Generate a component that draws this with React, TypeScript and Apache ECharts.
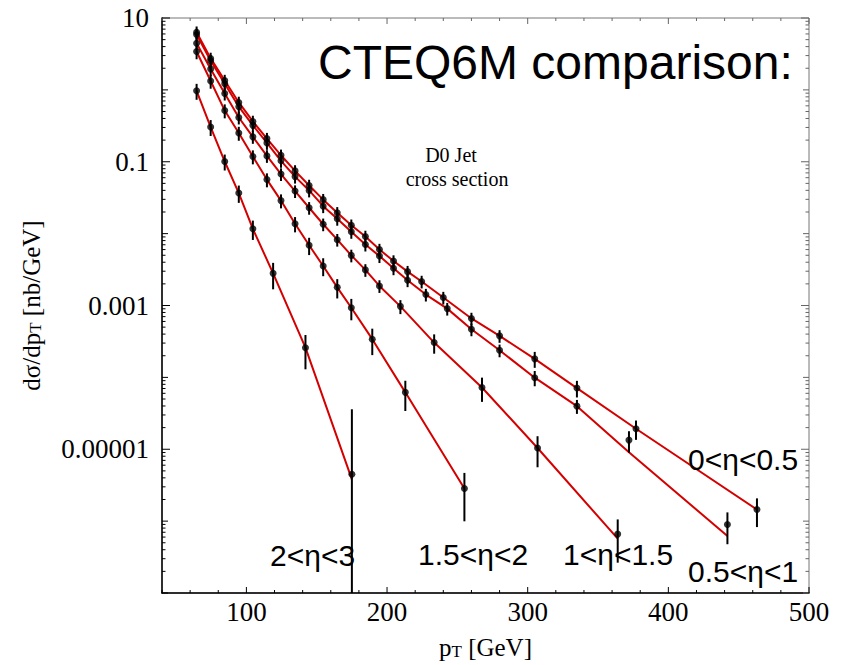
import React, { useEffect, useRef } from "react";
import * as echarts from "echarts";

// ---------- data (pT in GeV, cross section in nb/GeV) ----------
const pT_a = [64.6, 74.6, 84.6, 94.6, 104.6, 114.6, 124.6, 134.6, 144.6, 154.6, 164.6, 174.6, 184.6, 194.6, 204.6, 214.6, 224.6, 240, 260, 280, 305, 335, 377, 463];
const xs_a = [6.35, 2.74, 1.35, 0.669, 0.364, 0.21, 0.123, 0.0746, 0.0468, 0.0297, 0.0195, 0.0131, 0.00914, 0.00601, 0.00416, 0.00296, 0.00216, 0.00129, 6.6e-4, 3.78e-4, 1.81e-4, 7.1e-5, 1.93e-5, 1.45e-6];
const err_a = [0.2, 0.2, 0.2, 0.2, 0.2, 0.2, 0.2, 0.2, 0.2, 0.2, 0.2, 0.2, 0.2, 0.2, 0.2, 0.2, 0.2, 0.2, 0.2, 0.2, 0.25, 0.26, 0.3, 0.43];
const th_a = [6.35, 2.74, 1.35, 0.669, 0.364, 0.21, 0.123, 0.0746, 0.0468, 0.0297, 0.0195, 0.0131, 0.00914, 0.00601, 0.00416, 0.00296, 0.00216, 0.00129, 6.6e-4, 3.78e-4, 1.81e-4, 7.1e-5, 1.93e-5, 1.45e-6];

const pT_b = [64.6, 74.6, 84.6, 94.6, 104.6, 114.6, 124.6, 134.6, 144.6, 154.6, 164.6, 174.6, 184.6, 194.6, 204.6, 214.6, 227.6, 242.8, 260, 280, 305, 335, 372, 442];
const xs_b = [5.9, 2.54, 1.22, 0.584, 0.321, 0.183, 0.103, 0.0621, 0.0399, 0.0241, 0.0161, 0.0106, 0.00705, 0.00487, 0.0033, 0.00225, 0.00142, 9.05e-4, 4.67e-4, 2.38e-4, 9.9e-5, 3.98e-5, 1.34e-5, 9.0e-7];
const err_b = [0.2, 0.2, 0.2, 0.2, 0.2, 0.2, 0.2, 0.2, 0.2, 0.2, 0.2, 0.2, 0.2, 0.2, 0.2, 0.2, 0.2, 0.2, 0.2, 0.2, 0.24, 0.22, 0.33, 0.47];
const th_b = [5.9, 2.54, 1.22, 0.584, 0.321, 0.183, 0.103, 0.0621, 0.0399, 0.0241, 0.0161, 0.0106, 0.00705, 0.00487, 0.0033, 0.00225, 0.00142, 9.05e-4, 4.67e-4, 2.38e-4, 9.9e-5, 3.98e-5, 9.1e-6, 6.2e-7];

const pT_c = [64.6, 74.6, 84.6, 94.6, 104.6, 114.6, 124.6, 134.6, 144.6, 154.6, 164.6, 174.6, 184.6, 194.6, 209.5, 233.5, 267.5, 307, 364];
const xs_c = [4.45, 1.95, 0.889, 0.413, 0.222, 0.1206, 0.0675, 0.0391, 0.0229, 0.0135, 0.00824, 0.00498, 0.00313, 0.00187, 9.73e-4, 3.05e-4, 7.24e-5, 1.04e-5, 6.6e-7];
const err_c = [0.2, 0.2, 0.2, 0.2, 0.2, 0.2, 0.2, 0.2, 0.2, 0.2, 0.2, 0.2, 0.2, 0.2, 0.22, 0.3, 0.37, 0.46, 0.6];
const th_c = [4.45, 1.95, 0.889, 0.413, 0.222, 0.1206, 0.0675, 0.0391, 0.0229, 0.0135, 0.00824, 0.00498, 0.00313, 0.00187, 9.73e-4, 3.05e-4, 7.24e-5, 1.04e-5, 5.7e-7];

const pT_d = [64.6, 74.6, 84.6, 94.6, 104.6, 114.6, 124.6, 134.6, 144.6, 154.6, 164.6, 174.6, 189.5, 213, 255];
const xs_d = [3.42, 1.33, 0.515, 0.251, 0.118, 0.0565, 0.0288, 0.0137, 0.00689, 0.00355, 0.00179, 9.29e-4, 3.4e-4, 6.19e-5, 2.84e-6];
const err_d = [0.22, 0.22, 0.22, 0.22, 0.22, 0.22, 0.22, 0.24, 0.27, 0.28, 0.3, 0.33, 0.4, 0.45, 0.65];
const th_d = [3.42, 1.33, 0.515, 0.251, 0.118, 0.0565, 0.0288, 0.0137, 0.00689, 0.00355, 0.00179, 9.29e-4, 3.4e-4, 6.19e-5, 2.84e-6];

const pT_e = [64.6, 74.6, 84.6, 94.6, 104.6, 119, 142, 175];
const xs_e = [0.97, 0.304, 0.1007, 0.0367, 0.01167, 0.0028, 2.59e-4, 4.5e-6];
const err_e = [0.25, 0.25, 0.25, 0.27, 0.3, 0.4, 0.5, 7.0];
const th_e = [0.97, 0.304, 0.1007, 0.0367, 0.01167, 0.0028, 2.59e-4, 3.8e-6];

const binLabels = ["0<η<0.5", "0.5<η<1", "1<η<1.5", "1.5<η<2", "2<η<3"];

// axis ticks
const xMin = 40;
const xMax = 500;
const xTickStep = 20;
const xLabelValues = [100, 200, 300, 400, 500];
const yMinExp = -7;
const yMaxExp = 1;
const yLabelExps = [1, -1, -3, -5];
const yLabelTexts = ["10", "0.1", "0.001", "0.00001"];

const SERIF = "'Liberation Serif', 'Times New Roman', serif";
const SANS = "'Liberation Sans', Arial, sans-serif";
const RED = "#d40000";

const bins = [
  { pT: pT_a, xs: xs_a, err: err_a, th: th_a },
  { pT: pT_b, xs: xs_b, err: err_b, th: th_b },
  { pT: pT_c, xs: xs_c, err: err_c, th: th_c },
  { pT: pT_d, xs: xs_d, err: err_d, th: th_d },
  { pT: pT_e, xs: xs_e, err: err_e, th: th_e },
];

function buildOption() {
  const series: any[] = [];

  // frame ticks (inside, all four sides)
  const tickData: number[][] = [];
  for (let e = yMinExp; e <= yMaxExp; e++) {
    tickData.push([xMin, e, 1, yLabelExps.includes(e) ? 8 : 6]);
    if (e < yMaxExp) {
      for (let k = 2; k <= 9; k++) tickData.push([xMin, e + Math.log10(k), 1, 3.5]);
    }
  }
  for (let v = xMin; v <= xMax; v += xTickStep) {
    tickData.push([v, yMinExp, 0, v % 100 === 0 ? 6 : 3]);
  }
  series.push({
    type: "custom",
    name: "ticks",
    silent: true,
    z: 1,
    data: tickData,
    encode: { x: 0, y: 1 },
    renderItem: (params: any, api: any) => {
      const x = api.value(0);
      const y = api.value(1);
      const isY = api.value(2) === 1;
      const len = api.value(3);
      if (isY) {
        const l = api.coord([xMin, y]);
        const r = api.coord([xMax, y]);
        return {
          type: "group",
          children: [
            { type: "line", shape: { x1: l[0], y1: l[1], x2: l[0] + len, y2: l[1] }, style: { stroke: "#000", lineWidth: 1 } },
            { type: "line", shape: { x1: r[0] - len, y1: r[1], x2: r[0], y2: r[1] }, style: { stroke: "#666", lineWidth: 1 } },
          ],
        };
      }
      const b = api.coord([x, yMinExp]);
      const t = api.coord([x, yMaxExp]);
      return {
        type: "group",
        children: [
          { type: "line", shape: { x1: b[0], y1: b[1], x2: b[0], y2: b[1] - len }, style: { stroke: "#000", lineWidth: 1 } },
          { type: "line", shape: { x1: t[0], y1: t[1], x2: t[0], y2: t[1] + len }, style: { stroke: "#666", lineWidth: 1 } },
        ],
      };
    },
  });

  bins.forEach((b, i) => {
    series.push({
      type: "line",
      name: binLabels[i] + " CTEQ6M",
      data: b.pT.map((p, j) => [p, Math.log10(b.th[j])]),
      showSymbol: false,
      symbol: "none",
      lineStyle: { color: RED, width: 2 },
      z: 2,
    });
    series.push({
      type: "custom",
      name: binLabels[i] + " err",
      z: 3,
      data: b.pT.map((p, j) => {
        const hi = b.xs[j] * (1 + b.err[j]);
        const loRaw = b.xs[j] * (1 - b.err[j]);
        const lo = loRaw > 0 ? Math.max(yMinExp, Math.log10(loRaw)) : yMinExp;
        return [p, lo, Math.min(yMaxExp, Math.log10(hi))];
      }),
      encode: { x: 0, y: [1, 2] },
      renderItem: (params: any, api: any) => {
        const p1 = api.coord([api.value(0), api.value(1)]);
        const p2 = api.coord([api.value(0), api.value(2)]);
        return {
          type: "line",
          shape: { x1: p1[0], y1: p1[1], x2: p2[0], y2: p2[1] },
          style: { stroke: "#000", lineWidth: 2 },
        };
      },
    });
    series.push({
      type: "scatter",
      name: binLabels[i] + " D0",
      data: b.pT.map((p, j) => [p, Math.log10(b.xs[j])]),
      symbol: "circle",
      symbolSize: 7,
      itemStyle: { color: "#000" },
      z: 4,
    });
  });

  const labelPos = [
    [688, 459],
    [688, 571],
    [563, 554],
    [418, 554],
    [270, 555],
  ];

  return {
    animation: false,
    backgroundColor: "#fff",
    grid: {
      left: 162,
      right: 34,
      top: 18,
      bottom: 63,
      show: true,
      borderColor: "#777",
      borderWidth: 1,
      backgroundColor: "transparent",
    },
    xAxis: {
      type: "value",
      min: xMin,
      max: xMax,
      interval: xTickStep,
      axisLine: { show: true, onZero: false, lineStyle: { color: "#000", width: 1.5 } },
      axisTick: { show: false },
      splitLine: { show: false },
      axisLabel: {
        margin: 5,
        color: "#000",
        fontFamily: SERIF,
        fontSize: 27,
        formatter: (v: number) => (xLabelValues.includes(v) ? String(v) : ""),
      },
      name: "{p|p}{s|T}{p| [GeV]}",
      nameLocation: "middle",
      nameGap: 42,
      nameTextStyle: {
        rich: {
          p: { fontFamily: SERIF, fontSize: 25, color: "#000" },
          s: { fontFamily: SERIF, fontSize: 17, color: "#000", verticalAlign: "bottom", padding: [8, 0, 0, 0] },
        },
      },
    },
    yAxis: {
      type: "value",
      min: yMinExp,
      max: yMaxExp,
      interval: 1,
      axisLine: { show: true, onZero: false, lineStyle: { color: "#000", width: 1.5 } },
      axisTick: { show: false },
      splitLine: { show: false },
      axisLabel: {
        margin: 13,
        color: "#000",
        fontFamily: SERIF,
        fontSize: 27,
        formatter: (v: number) => {
          const idx = yLabelExps.indexOf(Math.round(v));
          return idx >= 0 && Math.abs(v - Math.round(v)) < 1e-9 ? yLabelTexts[idx] : "";
        },
      },
      name: "{p|dσ/dp}{s|T}{p| [nb/GeV]}",
      nameLocation: "middle",
      nameRotate: 90,
      nameGap: 118,
      nameTextStyle: {
        rich: {
          p: { fontFamily: SERIF, fontSize: 25, color: "#000" },
          s: { fontFamily: SERIF, fontSize: 17, color: "#000", verticalAlign: "bottom", padding: [8, 0, 0, 0] },
        },
      },
    },
    graphic: [
      {
        type: "text",
        x: 318,
        y: 62,
        style: { text: "CTEQ6M comparison:", font: `48px ${SANS}`, fill: "#000", verticalAlign: "middle", align: "left" },
      },
      {
        type: "text",
        x: 451,
        y: 155,
        style: { text: "D0 Jet", font: `20px ${SERIF}`, fill: "#000", verticalAlign: "middle", align: "center" },
      },
      {
        type: "text",
        x: 457,
        y: 179,
        style: { text: "cross section", font: `20px ${SERIF}`, fill: "#000", verticalAlign: "middle", align: "center" },
      },
      ...binLabels.map((t, i) => ({
        type: "text",
        x: labelPos[i][0],
        y: labelPos[i][1],
        z: 10,
        style: { text: t, font: `30px ${SANS}`, fill: "#000", verticalAlign: "middle", align: "left" },
      })),
    ],
    series,
  };
}

export default function App() {
  const ref = useRef<HTMLDivElement>(null);
  useEffect(() => {
    if (!ref.current) return;
    const chart = echarts.init(ref.current, undefined, { renderer: "svg" });
    chart.setOption(buildOption());
    return () => chart.dispose();
  }, []);
  return (
    <div
      ref={ref}
      style={{ position: "absolute", left: 0, top: 0, width: 843, height: 665, background: "#fff" }}
    />
  );
}
